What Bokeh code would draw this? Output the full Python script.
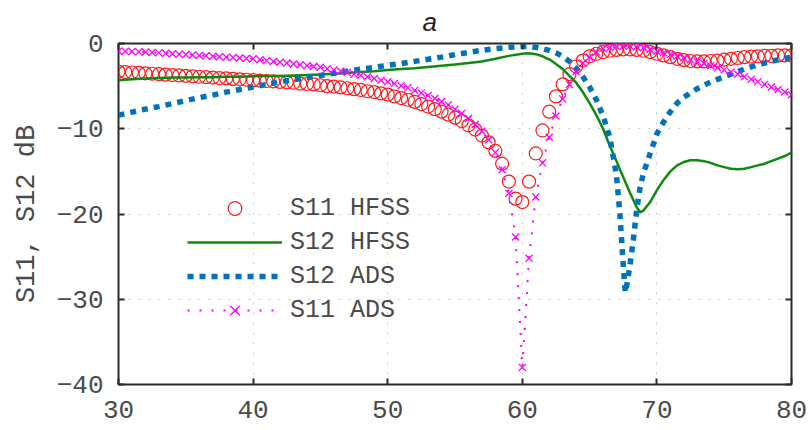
from bokeh.plotting import figure
from bokeh.models import (FixedTicker, LinearAxis, Range1d, Legend, LegendItem,
                          CustomJSTickFormatter)
from bokeh.embed import file_html
from bokeh.resources import INLINE

# ---------------- data ----------------
freq = [30.0, 30.5, 31.0, 31.5, 32.0, 32.5, 33.0, 33.5, 34.0, 34.5,
        35.0, 35.5, 36.0, 36.5, 37.0, 37.5, 38.0, 38.5, 39.0, 39.5,
        40.0, 40.5, 41.0, 41.5, 42.0, 42.5, 43.0, 43.5, 44.0, 44.5,
        45.0, 45.5, 46.0, 46.5, 47.0, 47.5, 48.0, 48.5, 49.0, 49.5,
        50.0, 50.5, 51.0, 51.5, 52.0, 52.5, 53.0, 53.5, 54.0, 54.5,
        55.0, 55.5, 56.0, 56.5, 57.0, 57.5, 58.0, 58.5, 59.0, 59.5,
        60.0, 60.5, 61.0, 61.5, 62.0, 62.5, 63.0, 63.5, 64.0, 64.5,
        65.0, 65.5, 66.0, 66.5, 67.0, 67.5, 68.0, 68.5, 69.0, 69.5,
        70.0, 70.5, 71.0, 71.5, 72.0, 72.5, 73.0, 73.5, 74.0, 74.5,
        75.0, 75.5, 76.0, 76.5, 77.0, 77.5, 78.0, 78.5, 79.0, 79.5,
        80.0]

s11_hfss = [-3.3, -3.35, -3.4, -3.45, -3.5, -3.55, -3.6, -3.65, -3.7, -3.75,
            -3.8, -3.85, -3.9, -3.95, -4.0, -4.05, -4.1, -4.15, -4.2, -4.25,
            -4.3, -4.35, -4.4, -4.45, -4.5, -4.55, -4.6, -4.7, -4.75, -4.8,
            -4.9, -5.0, -5.05, -5.15, -5.25, -5.35, -5.45, -5.6, -5.7, -5.85,
            -6.0, -6.2, -6.4, -6.6, -6.85, -7.1, -7.4, -7.7, -8.0, -8.35,
            -8.7, -9.1, -9.6, -10.1, -10.8, -11.6, -12.6, -14.1, -16.2, -18.2,
            -18.6, -16.2, -12.9, -10.2, -8.0, -6.2, -4.8, -3.6, -2.7, -2.0,
            -1.5, -1.2, -1.0, -0.85, -0.75, -0.7, -0.7, -0.75, -0.85, -1.0,
            -1.2, -1.4, -1.6, -1.8, -1.95, -2.05, -2.1, -2.1, -2.05, -2.0,
            -1.9, -1.8, -1.7, -1.6, -1.55, -1.5, -1.45, -1.45, -1.4, -1.4,
            -1.4]

s11_ads = [-0.9, -0.92, -0.95, -0.98, -1.0, -1.05, -1.1, -1.15, -1.2, -1.25,
           -1.3, -1.35, -1.4, -1.45, -1.5, -1.55, -1.6, -1.65, -1.7, -1.75,
           -1.8, -1.9, -2.0, -2.1, -2.2, -2.3, -2.4, -2.5, -2.6, -2.7,
           -2.8, -2.95, -3.1, -3.25, -3.4, -3.6, -3.75, -3.9, -4.1, -4.3,
           -4.5, -4.7, -4.95, -5.2, -5.5, -5.8, -6.1, -6.45, -6.8, -7.2,
           -7.7, -8.2, -8.8, -9.5, -10.3, -11.3, -12.8, -14.8, -17.6, -22.7,
           -38.0, -25.2, -18.0, -14.0, -11.0, -8.5, -6.5, -4.8, -3.3, -2.3,
           -1.6, -1.0, -0.6, -0.45, -0.35, -0.3, -0.3, -0.4, -0.5, -0.7,
           -0.9, -1.1, -1.3, -1.5, -1.7, -1.9, -2.1, -2.35, -2.6, -2.85,
           -3.1, -3.35, -3.6, -3.9, -4.2, -4.5, -4.8, -5.1, -5.4, -5.7,
           -6.0]

s12_ads_f = [30, 31, 32, 33, 34, 35, 36, 37, 38, 39, 40, 41, 42, 43, 44, 45,
             46, 47, 48, 49, 50, 51, 52, 53, 54, 55, 56, 57, 58, 59, 60,
             60.5, 61, 61.5, 62, 62.5, 63, 63.5, 64, 64.5, 65, 65.5, 66, 66.5, 67,
             67.25, 67.5, 67.65, 67.8, 68, 68.25, 68.5, 68.75, 69,
             69.5, 70, 70.5, 71, 71.5, 72, 72.5, 73, 73.5, 74, 74.5, 75, 75.5,
             76, 76.5, 77, 77.5, 78, 78.5, 79, 79.5, 80]
s12_ads = [-8.4, -8.05, -7.7, -7.4, -7.05, -6.7, -6.35, -6.05, -5.7, -5.4,
           -5.1, -4.8, -4.5, -4.25, -4.0, -3.75, -3.5, -3.25, -3.0, -2.8,
           -2.55, -2.35, -2.1, -1.85, -1.6, -1.3, -1.05, -0.8, -0.6, -0.45,
           -0.35,
           -0.35, -0.45, -0.6, -0.8, -1.1, -1.5, -2.1, -2.9, -3.9, -5.1, -6.6,
           -8.5, -11.0, -15.5,
           -20.0, -26.0, -29.2, -28.0, -26.0, -23.0, -19.5, -16.9, -15.2,
           -12.9, -10.6, -9.2, -8.0, -7.0, -6.3, -5.8, -5.3, -4.9, -4.5, -4.2,
           -3.9, -3.6, -3.3, -3.0, -2.75, -2.5, -2.3, -2.1, -1.9, -1.75, -1.6]

s12_hfss_f = [30, 31, 32, 33, 34, 35, 36, 37, 38, 39, 40, 41, 42, 43, 44, 45,
              46, 47, 48, 49, 50, 51, 52, 53, 54, 55, 56, 57, 58, 59, 60,
              60.5, 61, 61.5, 62, 62.5, 63, 63.5, 64, 64.5, 65, 65.5, 66, 66.5,
              67, 67.5, 68, 68.5, 68.75, 69, 69.5, 70, 70.5, 71, 71.5, 72, 72.5,
              73, 73.5, 74, 74.5, 75, 75.5, 76, 76.5, 77, 77.5, 78, 78.5, 79,
              79.5, 80]
s12_hfss = [-4.3, -4.2, -4.1, -4.05, -4.0, -4.0, -3.95, -3.95, -3.9, -3.9,
            -3.85, -3.8, -3.8, -3.75, -3.7, -3.65, -3.55, -3.45, -3.35, -3.25,
            -3.1, -3.0, -2.9, -2.75, -2.6, -2.45, -2.3, -2.1, -1.8, -1.45, -1.2,
            -1.15, -1.25, -1.5, -1.85, -2.4, -3.0, -3.8, -4.6, -5.7, -7.0, -8.4,
            -10.0, -12.0, -13.8, -15.7, -17.5, -19.2, -19.8, -19.6, -18.6,
            -17.2, -16.0, -15.0, -14.3, -13.9, -13.7, -13.7, -13.8, -14.0,
            -14.3, -14.5, -14.7, -14.75, -14.7, -14.5, -14.3, -14.1, -13.8,
            -13.5, -13.2, -12.8]

x_ticks = [30, 40, 50, 60, 70, 80]
y_ticks = [-40, -30, -20, -10, 0]
x_grid = [40, 50, 60, 70]
y_grid = [-30, -20, -10]
labels = ["S11 HFSS", "S12 HFSS", "S12 ADS", "S11 ADS"]

# ---------------- figure ----------------
MONO = "Liberation Mono"
TXT = "#4a4a4a"
FRAME = "#2b2b2b"

p = figure(width=809, height=430, output_backend="svg", toolbar_location=None,
           x_range=Range1d(30, 80), y_range=Range1d(-40, 0),
           min_border_left=118, min_border_right=18, min_border_top=43,
           min_border_bottom=46, background_fill_color="white",
           border_fill_color="white")

p.outline_line_color = FRAME
p.outline_line_width = 2

p.title.text = "a"
p.title.text_font = "Liberation Sans"
p.title.text_font_style = "italic"
p.title.text_font_size = "26px"
p.title.text_color = "#222222"
p.title.align = "left"
p.title.vertical_align = "top"
p.title.offset = 304
p.title.standoff = 10

for ax in (p.xaxis[0], p.yaxis[0]):
    ax.major_tick_in = 6
    ax.major_tick_out = 0
    ax.minor_tick_line_color = None
    ax.major_tick_line_color = FRAME
    ax.major_tick_line_width = 2
    ax.axis_line_color = None
    ax.major_label_text_font = MONO
    ax.major_label_text_font_size = "26px"
    ax.major_label_text_color = TXT

p.xaxis.ticker = FixedTicker(ticks=x_ticks)
p.yaxis.ticker = FixedTicker(ticks=y_ticks)
p.xaxis.major_label_standoff = 16
p.yaxis.major_label_standoff = 15

p.yaxis.axis_label = "S11, S12 dB"
p.yaxis.axis_label_text_font = MONO
p.yaxis.axis_label_text_font_size = "27px"
p.yaxis.axis_label_text_font_style = "normal"
p.yaxis.axis_label_text_color = TXT
p.yaxis.axis_label_standoff = 12

blank = CustomJSTickFormatter(code="return ''")
top_ax = LinearAxis(ticker=FixedTicker(ticks=x_ticks), formatter=blank,
                    major_tick_in=6, major_tick_out=0, major_tick_line_color=FRAME,
                    major_tick_line_width=2, minor_tick_line_color=None,
                    axis_line_color=None, major_label_standoff=0,
                    major_label_text_font_size="1px")
right_ax = LinearAxis(ticker=FixedTicker(ticks=y_ticks), formatter=blank,
                      major_tick_in=6, major_tick_out=0, major_tick_line_color=FRAME,
                      major_tick_line_width=2, minor_tick_line_color=None,
                      axis_line_color=None, major_label_standoff=0,
                      major_label_text_font_size="1px")
p.add_layout(top_ax, "above")
p.add_layout(right_ax, "right")

p.xgrid.ticker = FixedTicker(ticks=x_grid)
p.ygrid.ticker = FixedTicker(ticks=y_grid)
for g in (p.xgrid[0], p.ygrid[0]):
    g.grid_line_color = "#c8c8c8"
    g.grid_line_dash = "2 8"
    g.grid_line_width = 1

# ---------------- series ----------------
r_red = p.scatter(freq, s11_hfss, marker="circle", size=13, fill_color=None,
                  line_color="#ff1a1a", line_width=1.2)
r_green = p.line(s12_hfss_f, s12_hfss, line_color="#0f8a0f", line_width=2.5)
r_blue = p.line(s12_ads_f, s12_ads, line_color="#0072bd", line_width=5.5,
                line_dash="6 6")
r_mag_line = p.line(freq, s11_ads, line_color="#ff00ff", line_width=2,
                    line_dash="2 10")
r_mag_x = p.scatter(freq, s11_ads, marker="x", size=10, line_color="#ff00ff",
                    line_width=1.3)

legend = Legend(items=[
    LegendItem(label=labels[0], renderers=[r_red]),
    LegendItem(label=labels[1], renderers=[r_green]),
    LegendItem(label=labels[2], renderers=[r_blue]),
    LegendItem(label=labels[3], renderers=[r_mag_line, r_mag_x]),
], location=(69, 57), padding=0, margin=0, spacing=0,
    glyph_width=95, glyph_height=34, label_height=34, label_standoff=8,
    label_text_font=MONO, label_text_font_size="25px", label_text_color=TXT,
    border_line_color=None, background_fill_alpha=0)
p.add_layout(legend)

open("out.html", "w").write(file_html(p, INLINE))
